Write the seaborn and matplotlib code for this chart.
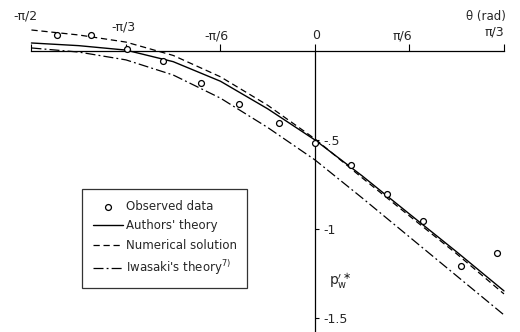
import numpy as np
import matplotlib
matplotlib.use("Agg")
import matplotlib.pyplot as plt
import seaborn as sns

# curve values (theta in rad)
theta_curve = [-np.pi/2, -5*np.pi/12, -np.pi/3, -np.pi/4, -np.pi/6, -np.pi/12,
               0.0, np.pi/12, np.pi/6, np.pi/4, np.pi/3]
authors = [0.045, 0.030, 0.005, -0.060, -0.170, -0.325,
           -0.500, -0.702, -0.916, -1.129, -1.348]
numerical = [0.118, 0.090, 0.050, -0.025, -0.145, -0.305,
             -0.494, -0.713, -0.927, -1.140, -1.365]
iwasaki = [0.017, -0.006, -0.050, -0.135, -0.265, -0.430,
           -0.612, -0.826, -1.045, -1.264, -1.483]

# observed data
obs_theta = [-1.43, -1.24, -1.04, -0.84, -0.63, -0.42, -0.20, 0.0,
             0.20, 0.40, 0.60, 0.81, 1.01]
obs_p = [0.090, 0.090, 0.011, -0.056, -0.180, -0.298, -0.404, -0.517,
         -0.640, -0.803, -0.955, -1.208, -1.135]

x_ticks = [-np.pi/2, -np.pi/3, -np.pi/6, 0.0, np.pi/6, np.pi/3]
x_labels = ['-π/2', '-π/3', '-π/6', '0', 'π/6', 'π/3']
y_ticks = [-0.5, -1.0, -1.5]
y_labels = ['-.5', '-1', '-1.5']

sns.set_style("white")
plt.rcParams['font.family'] = ['DejaVu Sans']
plt.rcParams['mathtext.fontset'] = 'dejavusans'

fig = plt.figure(figsize=(5.2, 3.32), dpi=100)
ax = fig.add_axes([0, 0, 1, 1])
ax.set_facecolor('white')

sns.lineplot(x=theta_curve, y=authors, ax=ax, color='black', lw=1.0,
             linestyle='-', label="Authors' theory")
sns.lineplot(x=theta_curve, y=numerical, ax=ax, color='black', lw=0.9,
             linestyle=(0, (5, 3)), label='Numerical solution')
sns.lineplot(x=theta_curve, y=iwasaki, ax=ax, color='black', lw=0.9,
             linestyle=(0, (8, 2.5, 1.5, 2.5)), label="Iwasaki's theory$^{7)}$")
sns.scatterplot(x=obs_theta, y=obs_p, ax=ax, marker='o', s=18,
                facecolor='white', edgecolor='black', linewidth=0.9,
                label='Observed data', zorder=5)

ax.set_xlim(-1.745, 1.136)
ax.set_ylim(-1.579, 0.2865)

# axes drawn through the origin
for s in ['bottom', 'left']:
    ax.spines[s].set_visible(False)
ax.spines['top'].set_position(('data', 0))
ax.spines['top'].set_bounds(-np.pi/2, np.pi/3)
ax.spines['right'].set_position(('data', 0))
ax.spines['right'].set_bounds(-1.579, 0)
for s in ['top', 'right']:
    ax.spines[s].set_color('black')
    ax.spines[s].set_linewidth(0.9)

ax.xaxis.set_ticks_position('top')
ax.set_xticks(x_ticks)
ax.set_xticklabels([])
ax.tick_params(axis='x', direction='out', length=5, width=0.8, color='black')

ax.yaxis.set_ticks_position('right')
ax.set_yticks(y_ticks)
ax.set_yticklabels(y_labels, fontsize=9)
ax.tick_params(axis='y', direction='out', length=3, width=0.8, color='black', pad=3)

label_offsets = [(-4, 25), (-2, 17), (-3, 11), (1, 11), (-5, 11), (-7, 14)]
for xt, lab, (dx, dy) in zip(x_ticks, x_labels, label_offsets):
    ax.annotate(lab, xy=(xt, 0), xytext=(dx, dy), textcoords='offset points',
                ha='center', va='center', fontsize=9)

ax.text(0.935, 0.949, 'θ (rad)', transform=ax.transAxes, fontsize=8.5,
        ha='center', va='center')
ax.text(0.08, -1.29, r'$\mathrm{p}_\mathrm{w}^{\prime\ast}$', fontsize=10,
        ha='left', va='center')

handles, labels = ax.get_legend_handles_labels()
order = [3, 0, 1, 2]
leg = ax.legend([handles[i] for i in order], [labels[i] for i in order],
                loc='lower left', bbox_to_anchor=(0.158, 0.1325),
                frameon=True, fancybox=False, edgecolor='black', fontsize=8.5,
                handlelength=2.6, handletextpad=0.2, labelspacing=0.55,
                borderpad=0.9, borderaxespad=0)
leg.get_frame().set_linewidth(0.9)

fig.savefig('out.png', dpi=100, facecolor='white')
